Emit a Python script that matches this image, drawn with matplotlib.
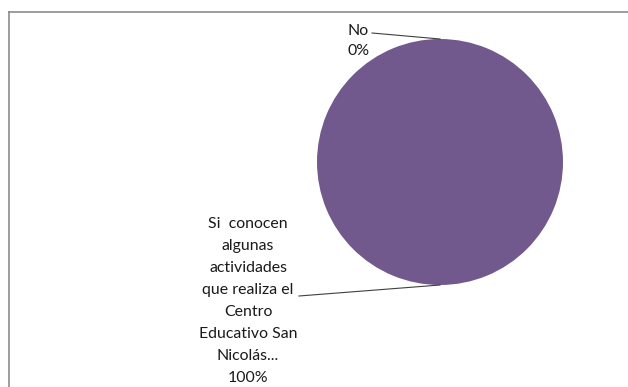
import numpy as np
import matplotlib
matplotlib.use("Agg")
import matplotlib.pyplot as plt
from matplotlib.lines import Line2D

# Survey answers and their shares
categories = ["No",
              "Si  conocen\nalgunas\nactividades\nque realiza el\nCentro\nEducativo San\nNicolás..."]
values = [0, 100]
colors = ["#4F81BD", "#71598E"]

W, H = 628, 387
fig = plt.figure(figsize=(W / 100, H / 100), dpi=100)
ax = fig.add_axes([0, 0, 1, 1])

# pie placement in pixels (center and radius)
cx, cy, r = 440, 162, 123


def px(x, y):
    """pixel position (from top-left) -> data coordinates"""
    return ((x - cx) / r, (cy - y) / r)


ax.pie(values, colors=colors, startangle=90, counterclock=False, radius=1,
       wedgeprops=dict(linewidth=0))
ax.set_aspect("auto")
ax.set_xlim(-cx / r, (W - cx) / r)
ax.set_ylim(-(H - cy) / r, cy / r)
ax.axis("off")

# midpoint angle of each wedge (clockwise from the top)
total = sum(values)
cum = np.cumsum(values)
mid_angles = [np.deg2rad(90 - 360 * (c - v / 2) / total) for c, v in zip(cum, values)]
edge_pts = [(np.cos(a), np.sin(a)) for a in mid_angles]

pct = ["{:.0f}%".format(100 * v / total) for v in values]
font = ["Lato", "DejaVu Sans"]
tcolor = "#1a1a1a"
fs = 11.4

# "No" label with leader line
ax.text(*px(347, 41), f"{categories[0]}\n{pct[0]}", ha="left", va="center",
        fontsize=fs, family=font, color=tcolor, linespacing=1.59)
x0, y0 = px(372, 33)
ax.add_line(Line2D([x0, edge_pts[0][0]], [y0, edge_pts[0][1]], color="#404040", lw=0.8))

# main label with leader line
ax.text(*px(248, 301), f"{categories[1]}\n{pct[1]}", ha="center", va="center",
        multialignment="center", fontsize=fs, family=font, color=tcolor,
        linespacing=1.72)
x1, y1 = px(299, 296)
ax.add_line(Line2D([x1, edge_pts[1][0]], [y1, edge_pts[1][1]], color="#404040", lw=0.8))

# chart area frame (top and left edges visible)
frame_kw = dict(transform=fig.transFigure, color="#8C8C8C", lw=1.2)
fig.add_artist(Line2D([8.5 / W, 1], [1 - 11.5 / H, 1 - 11.5 / H], **frame_kw))
fig.add_artist(Line2D([8.5 / W, 8.5 / W], [0, 1 - 11.5 / H], **frame_kw))

fig.savefig("out.png", dpi=100, facecolor="white")
